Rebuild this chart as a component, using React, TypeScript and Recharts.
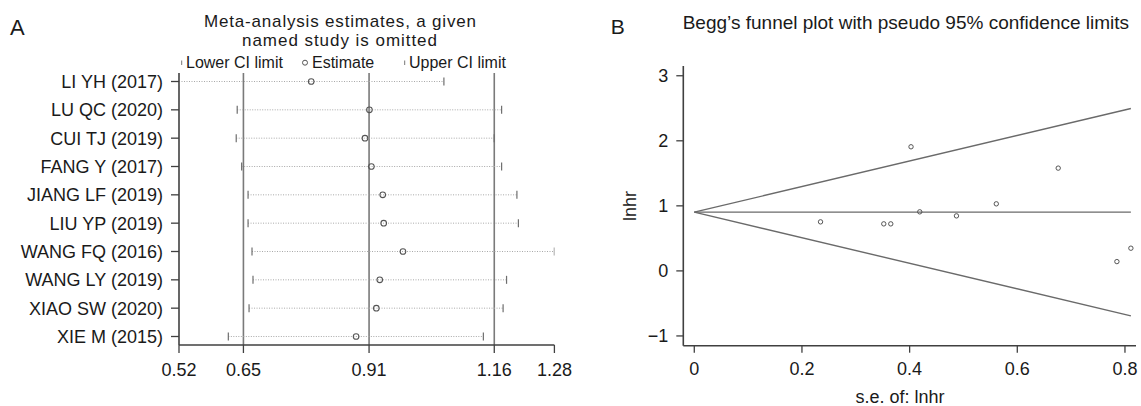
import React from 'react';
import { ScatterChart, Scatter, XAxis, YAxis, ReferenceLine } from 'recharts';

// ---------- Panel A: leave-one-out sensitivity analysis ----------
const studies = [
  'LI YH (2017)',
  'LU QC (2020)',
  'CUI TJ (2019)',
  'FANG Y (2017)',
  'JIANG LF (2019)',
  'LIU YP (2019)',
  'WANG FQ (2016)',
  'WANG LY (2019)',
  'XIAO SW (2020)',
  'XIE M (2015)',
];
const lowerCI = [0.52, 0.638, 0.636, 0.647, 0.66, 0.66, 0.668, 0.67, 0.662, 0.62];
const estimates = [0.788, 0.906, 0.897, 0.91, 0.933, 0.935, 0.974, 0.927, 0.92, 0.879];
const upperCI = [1.057, 1.174, 1.159, 1.174, 1.205, 1.208, 1.281, 1.184, 1.177, 1.137];
const xTicksA = [0.52, 0.6506, 0.9053, 1.1591, 1.281];
const pooledLines = [0.6506, 0.9053, 1.1591];

// ---------- Panel B: Begg's funnel plot ----------
const seLnhr = [0.2345, 0.352, 0.365, 0.4026, 0.4188, 0.487, 0.561, 0.676, 0.785, 0.811];
const lnhr = [0.754, 0.723, 0.723, 1.908, 0.908, 0.846, 1.031, 1.58, 0.143, 0.349];
const funnelSe = [0, 0.811];
const funnelCenter = [0.903, 0.903];
const funnelUpper = [0.903, 2.497];
const funnelLower = [0.903, -0.691];
const xTicksB = [0, 0.2, 0.4, 0.6, 0.8];
const yTicksB = [-1, 0, 1, 2, 3];

const FONT = '"Liberation Sans", Arial, Helvetica, sans-serif';
const TEXT = '#1a1a1a';
const AXIS = '#404040';

const rowIdx = studies.map((_, i) => i + 1);
const lowerData = lowerCI.map((v, i) => ({ x: v, y: i + 1 }));
const estData = estimates.map((v, i) => ({ x: v, y: i + 1 }));
const upperData = upperCI.map((v, i) => ({ x: v, y: i + 1 }));
const funnelPoints = seLnhr.map((s, i) => ({ x: s, y: lnhr[i] }));

const CapShape = (props: any) => {
  const { cx, cy } = props;
  if (cx == null || cy == null) return null;
  return <line x1={cx} x2={cx} y1={cy - 4} y2={cy + 4} stroke="#6e6e6e" strokeWidth={1.2} />;
};
const EstShape = (props: any) => {
  const { cx, cy } = props;
  if (cx == null || cy == null) return null;
  return <circle cx={cx} cy={cy} r={2.8} fill="none" stroke="#555" strokeWidth={1.1} />;
};
const DotShape = (props: any) => {
  const { cx, cy } = props;
  if (cx == null || cy == null) return null;
  return <circle cx={cx} cy={cy} r={2.2} fill="none" stroke="#555" strokeWidth={1} />;
};

export default function App() {
  return (
    <div style={{ position: 'absolute', left: 0, top: 0, width: 1141, height: 406, background: '#fff', fontFamily: FONT }}>
      <div style={{ position: 'absolute', left: 0, top: 0 }}>
        <ScatterChart width={600} height={406} margin={{ top: 73, right: 45.6, bottom: 0, left: 0 }}>
          <XAxis
            type="number"
            dataKey="x"
            domain={[0.52, 1.281]}
            ticks={xTicksA}
            interval={0}
            allowDataOverflow
            tickFormatter={(v: number) => v.toFixed(2)}
            height={61}
            tickSize={8}
            tickMargin={10}
            axisLine={{ stroke: AXIS, strokeWidth: 1.6 }}
            tickLine={{ stroke: AXIS, strokeWidth: 1.3 }}
            tick={{ fill: TEXT, fontSize: 18, fontFamily: FONT }}
          />
          <YAxis
            type="number"
            dataKey="y"
            domain={[0.7, 10.3]}
            reversed
            ticks={rowIdx}
            interval={0}
            allowDataOverflow
            tickFormatter={(v: number) => studies[v - 1] ?? ''}
            width={179}
            tickSize={8}
            tickMargin={8}
            axisLine={{ stroke: AXIS, strokeWidth: 1.6 }}
            tickLine={{ stroke: AXIS, strokeWidth: 1.3 }}
            tick={{ fill: TEXT, fontSize: 18, fontFamily: FONT }}
          />
          {pooledLines.map((v) => (
            <ReferenceLine key={'p' + v} x={v} stroke="#7a7a7a" strokeWidth={1.6} />
          ))}
          {studies.map((s, i) => (
            <ReferenceLine
              key={'seg' + s}
              segment={[{ x: lowerCI[i], y: i + 1 }, { x: upperCI[i], y: i + 1 }]}
              stroke="#a8a8a8"
              strokeWidth={1}
              strokeDasharray="1 1.5"
              ifOverflow="visible"
            />
          ))}
          <Scatter data={lowerData} shape={<CapShape />} isAnimationActive={false} />
          <Scatter data={upperData} shape={<CapShape />} isAnimationActive={false} />
          <Scatter data={estData} shape={<EstShape />} isAnimationActive={false} />
        </ScatterChart>
      </div>

      <div style={{ position: 'absolute', left: 570, top: 0 }}>
        <ScatterChart width={571} height={406} margin={{ top: 66, right: 5, bottom: 0, left: 0 }}>
          <XAxis
            type="number"
            dataKey="x"
            domain={[-0.0204, 0.8205]}
            ticks={xTicksB}
            interval={0}
            allowDataOverflow
            tickFormatter={(v: number) => String(v)}
            height={60.3}
            tickSize={7}
            tickMargin={10}
            axisLine={{ stroke: AXIS, strokeWidth: 1.6 }}
            tickLine={{ stroke: AXIS, strokeWidth: 1.3 }}
            tick={{ fill: TEXT, fontSize: 18, fontFamily: FONT }}
          />
          <YAxis
            type="number"
            dataKey="y"
            domain={[-1.15, 3.15]}
            ticks={yTicksB}
            interval={0}
            allowDataOverflow
            tickFormatter={(v: number) => (v < 0 ? '\u2212' + Math.abs(v) : String(v))}
            width={113.3}
            tickSize={7}
            tickMargin={8}
            axisLine={{ stroke: AXIS, strokeWidth: 1.6 }}
            tickLine={{ stroke: AXIS, strokeWidth: 1.3 }}
            tick={{ fill: TEXT, fontSize: 18, fontFamily: FONT }}
          />
          <ReferenceLine
            segment={[{ x: funnelSe[0], y: funnelCenter[0] }, { x: funnelSe[1], y: funnelCenter[1] }]}
            stroke="#6a6a6a"
            strokeWidth={1.4}
            ifOverflow="visible"
          />
          <ReferenceLine
            segment={[{ x: funnelSe[0], y: funnelUpper[0] }, { x: funnelSe[1], y: funnelUpper[1] }]}
            stroke="#6a6a6a"
            strokeWidth={1.4}
            ifOverflow="visible"
          />
          <ReferenceLine
            segment={[{ x: funnelSe[0], y: funnelLower[0] }, { x: funnelSe[1], y: funnelLower[1] }]}
            stroke="#6a6a6a"
            strokeWidth={1.4}
            ifOverflow="visible"
          />
          <Scatter data={funnelPoints} shape={<DotShape />} isAnimationActive={false} />
        </ScatterChart>
      </div>

      <svg
        width={1141}
        height={406}
        style={{ position: 'absolute', left: 0, top: 0, pointerEvents: 'none' }}
        fontFamily={FONT}
      >
        <text x={10} y={27} fontSize={22} fill={TEXT} dominantBaseline="central">A</text>
        <text
          x={340}
          y={21.8}
          fontSize={17}
          fill={TEXT}
          textAnchor="middle"
          dominantBaseline="central"
          textLength={272}
          lengthAdjust="spacing"
        >
          Meta-analysis estimates, a given
        </text>
        <text
          x={339.5}
          y={40.6}
          fontSize={17}
          fill={TEXT}
          textAnchor="middle"
          dominantBaseline="central"
          textLength={195}
          lengthAdjust="spacing"
        >
          named study is omitted
        </text>
        <line x1={181.7} x2={181.7} y1={60.5} y2={65} stroke="#777" strokeWidth={1} />
        <text x={186} y={62.7} fontSize={16} fill={TEXT} dominantBaseline="central">Lower CI limit</text>
        <circle cx={305} cy={62.7} r={2.5} fill="none" stroke="#555" strokeWidth={1} />
        <text x={312} y={62.7} fontSize={16} fill={TEXT} dominantBaseline="central">Estimate</text>
        <line x1={404.7} x2={404.7} y1={60.5} y2={65} stroke="#777" strokeWidth={1} />
        <text x={409} y={62.7} fontSize={16} fill={TEXT} dominantBaseline="central">Upper CI limit</text>

        <text x={610.7} y={26.7} fontSize={21} fill={TEXT} dominantBaseline="central">B</text>
        <text x={682.7} y={22.7} fontSize={19} fill={TEXT} dominantBaseline="central">
          Begg’s funnel plot with pseudo 95% confidence limits
        </text>
        <text
          x={630}
          y={206}
          fontSize={18}
          fill={TEXT}
          textAnchor="middle"
          dominantBaseline="central"
          transform="rotate(-90 630 206)"
        >
          lnhr
        </text>
        <text x={900} y={396.7} fontSize={18} fill={TEXT} textAnchor="middle" dominantBaseline="central">
          s.e. of: lnhr
        </text>
      </svg>
    </div>
  );
}
